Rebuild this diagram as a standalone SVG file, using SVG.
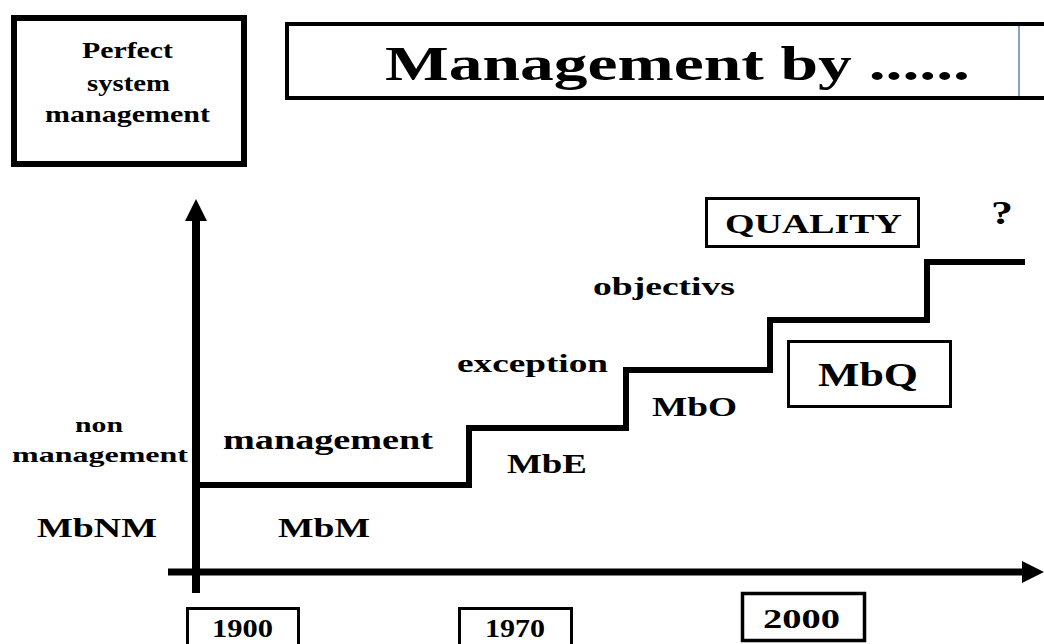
<svg xmlns="http://www.w3.org/2000/svg" width="1044" height="644" viewBox="0 0 1044 644">
  <style>
    .t { font-family: "Liberation Serif", "Times New Roman", serif; font-weight: bold; fill: #000; }
    .box { fill: #fff; stroke: #000; }
    .axis { stroke: #000; fill: none; }
    .step { stroke: #000; stroke-width: 6; fill: none; stroke-linejoin: miter; }
  </style>
  <defs>
    <marker id="arrow" markerUnits="userSpaceOnUse" markerWidth="22" markerHeight="22" viewBox="0 0 22 22" refX="1" refY="11" orient="auto">
      <path d="M0,0 L22,11 L0,22 Z" fill="#000"/>
    </marker>
  </defs>
  <rect width="1044" height="644" fill="#fff"/>

  <g id="connectors">
    <line class="axis" x1="196" y1="593" x2="196" y2="220" stroke-width="8" marker-end="url(#arrow)"/>
    <line class="axis" x1="168" y1="572" x2="1023" y2="572" stroke-width="7" marker-end="url(#arrow)"/>
    <path class="step" d="M200,485 H469 V428 H626 V370 H770 V320 H927 V262 H1025"/>
  </g>

  <g id="perfect-system">
    <rect class="box" x="14" y="18" width="230" height="146" stroke-width="6"/>
    <text class="t" x="82" y="58" font-size="23" textLength="91" lengthAdjust="spacingAndGlyphs">Perfect</text>
    <text class="t" x="87" y="91" font-size="23" textLength="83" lengthAdjust="spacingAndGlyphs">system</text>
    <text class="t" x="45" y="122" font-size="23" textLength="165" lengthAdjust="spacingAndGlyphs">management</text>
  </g>

  <g id="title">
    <rect class="box" x="287" y="24" width="800" height="74" stroke-width="4"/>
    <line x1="1019" y1="26" x2="1019" y2="96" stroke="#5b7fc0" stroke-width="1.5"/>
    <text class="t" x="385" y="80" font-size="49" textLength="585" lengthAdjust="spacingAndGlyphs">Management by ......</text>
  </g>

  <g id="quality">
    <rect class="box" x="706.5" y="198.5" width="212" height="48" stroke-width="3"/>
    <text class="t" x="725" y="233" font-size="27" textLength="177" lengthAdjust="spacingAndGlyphs">QUALITY</text>
  </g>

  <g id="question">
    <text class="t" x="991" y="224" font-size="34" textLength="22" lengthAdjust="spacingAndGlyphs">?</text>
  </g>

  <g id="mbq">
    <rect class="box" x="788.5" y="341.5" width="162" height="65" stroke-width="3"/>
    <text class="t" x="818" y="386" font-size="33" textLength="100" lengthAdjust="spacingAndGlyphs">MbQ</text>
  </g>

  <g id="objectivs">
    <text class="t" x="593" y="295" font-size="26" textLength="142" lengthAdjust="spacingAndGlyphs">objectivs</text>
  </g>
  <g id="mbo">
    <text class="t" x="652" y="416" font-size="27" textLength="85" lengthAdjust="spacingAndGlyphs">MbO</text>
  </g>

  <g id="exception">
    <text class="t" x="457" y="372" font-size="26" textLength="151" lengthAdjust="spacingAndGlyphs">exception</text>
  </g>
  <g id="mbe">
    <text class="t" x="507" y="473" font-size="27" textLength="80" lengthAdjust="spacingAndGlyphs">MbE</text>
  </g>

  <g id="management">
    <text class="t" x="223" y="449" font-size="28" textLength="210" lengthAdjust="spacingAndGlyphs">management</text>
  </g>
  <g id="mbm">
    <text class="t" x="278" y="537" font-size="28" textLength="92" lengthAdjust="spacingAndGlyphs">MbM</text>
  </g>

  <g id="non-management">
    <text class="t" x="75" y="432" font-size="21" textLength="48" lengthAdjust="spacingAndGlyphs">non</text>
    <text class="t" x="12" y="462" font-size="21" textLength="176" lengthAdjust="spacingAndGlyphs">management</text>
  </g>
  <g id="mbnm">
    <text class="t" x="37" y="537" font-size="28" textLength="120" lengthAdjust="spacingAndGlyphs">MbNM</text>
  </g>

  <g id="year-1900">
    <rect class="box" x="187.5" y="608.5" width="111" height="50" stroke-width="3"/>
    <text class="t" x="212" y="637" font-size="26" textLength="61" lengthAdjust="spacingAndGlyphs">1900</text>
  </g>
  <g id="year-1970">
    <rect class="box" x="459.5" y="608.5" width="112" height="50" stroke-width="3"/>
    <text class="t" x="485" y="637" font-size="26" textLength="60" lengthAdjust="spacingAndGlyphs">1970</text>
  </g>
  <g id="year-2000">
    <rect class="box" x="742.5" y="593.5" width="122" height="47" stroke-width="3.5"/>
    <text class="t" x="763" y="628" font-size="27" textLength="77" lengthAdjust="spacingAndGlyphs">2000</text>
  </g>
</svg>
